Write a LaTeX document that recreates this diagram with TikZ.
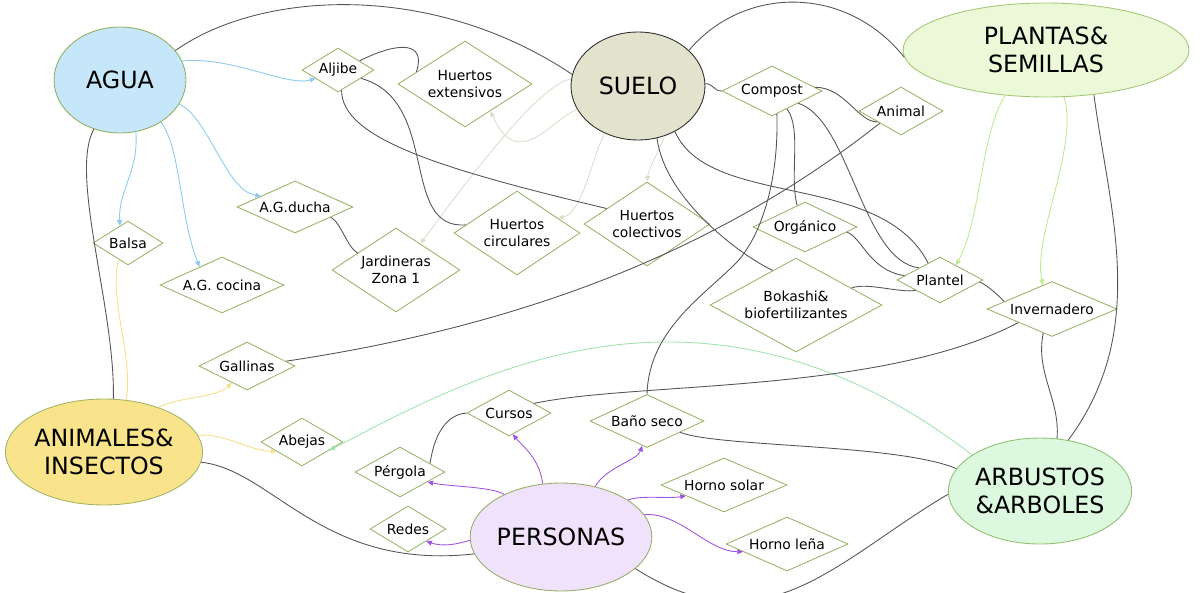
\documentclass[tikz,border=0pt]{standalone}
\usepackage{fontspec}
\setmainfont{DejaVu Sans}
\usetikzlibrary{shapes.geometric,arrows.meta}
\definecolor{aguaF}{HTML}{C6E6FA}
\definecolor{aguaB}{HTML}{8DB360}
\definecolor{sueloF}{HTML}{E2E2CD}
\definecolor{sueloB}{HTML}{2D2D2D}
\definecolor{plantF}{HTML}{EBF9D9}
\definecolor{plantB}{HTML}{A3C873}
\definecolor{animF}{HTML}{FAE48B}
\definecolor{animB}{HTML}{A3B467}
\definecolor{persF}{HTML}{EFE2FA}
\definecolor{persB}{HTML}{98AE6A}
\definecolor{arbF}{HTML}{DCF8DF}
\definecolor{arbB}{HTML}{90C070}
\definecolor{dbord}{HTML}{9BB46B}
\definecolor{lk}{HTML}{555555}
\definecolor{blueA}{HTML}{8ACBEE}
\definecolor{yelA}{HTML}{F5DF88}
\definecolor{purA}{HTML}{A055E0}
\definecolor{plA}{HTML}{BDEB8E}
\definecolor{suA}{HTML}{DDDDCB}
\definecolor{arA}{HTML}{9FE3B0}
\begin{document}
\begin{tikzpicture}[x=0.02cm,y=-0.02cm,
  big/.style={ellipse, inner sep=0pt, line width=0.5pt, align=center, font=\fontsize{13.5}{16}\selectfont},
  dia/.style={diamond, draw=dbord, fill=white, line width=0.5pt, inner sep=0pt, align=center, font=\fontsize{7.9}{9.5}\selectfont},
  lnk/.style={draw=lk, line width=0.5pt},
  arr/.style={-{Triangle[length=3.2pt,width=2.8pt]}, line width=0.5pt},
  blu/.style={arr, draw=blueA},
  yel/.style={arr, draw=yelA},
  pur/.style={arr, draw=purA},
  plg/.style={arr, draw=plA},
  sua/.style={arr, draw=suA},
  arg/.style={arr, draw=arA}]
\useasboundingbox (0,0) rectangle (1200,592);

% main ellipses
\node[big, fill=aguaF, draw=aguaB, minimum width=2.64cm, minimum height=2.12cm] (agua) at (120,80) {AGUA};
\node[big, fill=sueloF, draw=sueloB, minimum width=2.68cm, minimum height=2.16cm] (suelo) at (638,86) {SUELO};
\node[big, fill=plantF, draw=plantB, minimum width=5.72cm, minimum height=1.88cm] (plantas) at (1046,50) {PLANTAS\&\\SEMILLAS};
\node[big, fill=animF, draw=animB, minimum width=3.72cm, minimum height=2.12cm] (anim) at (104,452) {ANIMALES\&\\INSECTOS};
\node[big, fill=persF, draw=persB, minimum width=3.24cm, minimum height=2.16cm] (pers) at (561,537) {PERSONAS};
\node[big, fill=arbF, draw=arbB, minimum width=3.52cm, minimum height=2.12cm] (arb) at (1040,491) {ARBUSTOS\\\&ARBOLES};

% diamonds
\node[dia, minimum width=1.44cm, minimum height=0.88cm, shape aspect=1.64] (aljibe) at (338,70) {Aljibe};
\node[dia, minimum width=2.68cm, minimum height=1.72cm, shape aspect=1.56] (hext) at (465,84) {Huertos\\extensivos};
\node[dia, minimum width=2.32cm, minimum height=1.04cm, shape aspect=2.23] (ducha) at (295,207) {A.G.ducha};
\node[dia, minimum width=1.40cm, minimum height=0.88cm, shape aspect=1.6] (balsa) at (128,243) {Balsa};
\node[dia, minimum width=2.48cm, minimum height=1.12cm, shape aspect=2.2] (cocina) at (222,285) {A.G. cocina};
\node[dia, minimum width=2.56cm, minimum height=1.68cm, shape aspect=1.52] (jard) at (396,270) {Jardineras\\Zona 1};
\node[dia, minimum width=2.52cm, minimum height=1.68cm, shape aspect=1.5] (hcirc) at (517,233) {Huertos\\circulares};
\node[dia, minimum width=2.52cm, minimum height=1.68cm, shape aspect=1.5] (hcol) at (647,224) {Huertos\\colectivos};
\node[dia, minimum width=2.0cm, minimum height=1.0cm, shape aspect=2] (compost) at (772,91) {Compost};
\node[dia, minimum width=1.68cm, minimum height=0.96cm, shape aspect=1.75] (animal) at (901,111) {Animal};
\node[dia, minimum width=2.08cm, minimum height=1.0cm, shape aspect=2.08] (organico) at (805,227) {Orgánico};
\node[dia, minimum width=1.72cm, minimum height=0.92cm, shape aspect=1.87] (plantel) at (940,280) {Plantel};
\node[dia, minimum width=3.44cm, minimum height=1.88cm, shape aspect=1.83] (bokashi) at (796,305) {Bokashi\&\\biofertilizantes};
\node[dia, minimum width=2.6cm, minimum height=1.1cm, shape aspect=2.36] (inver) at (1052,309) {Invernadero};
\node[dia, minimum width=1.92cm, minimum height=0.96cm, shape aspect=2] (gallinas) at (247,366) {Gallinas};
\node[dia, minimum width=1.64cm, minimum height=0.96cm, shape aspect=1.7] (abejas) at (302,442) {Abejas};
\node[dia, minimum width=1.68cm, minimum height=0.92cm, shape aspect=1.83] (cursos) at (509,413) {Cursos};
\node[dia, minimum width=2.28cm, minimum height=1.06cm, shape aspect=2.15] (bano) at (647,421) {Baño seco};
\node[dia, minimum width=1.8cm, minimum height=1.0cm, shape aspect=1.8] (pergola) at (400,472) {Pérgola};
\node[dia, minimum width=1.52cm, minimum height=0.92cm, shape aspect=1.65] (redes) at (408,529) {Redes};
\node[dia, minimum width=2.52cm, minimum height=1.08cm, shape aspect=2.33] (hsolar) at (724,485) {Horno solar};
\node[dia, minimum width=2.44cm, minimum height=1.08cm, shape aspect=2.26] (hlena) at (787,544) {Horno leña};

\coordinate (cbend) at (737,262);

% blue (AGUA)
\draw[blu] (agua.17) .. controls +(50,-5) and +(-30,8) .. (aljibe.201);
\draw[blu] (agua.-73) .. controls +(3,40) and +(-2,-35) .. (balsa.115);
\draw[blu] (agua.-46) .. controls +(20,25) and +(-20,-50) .. (cocina.141);
\draw[blu] (agua.-22) .. controls +(30,15) and +(-35,-5) .. (ducha.162);

% yellow (ANIMALES)
\draw[yelA, line width=0.5pt] (balsa.-120) .. controls +(-10,40) and +(8,-40) .. (anim.67);
\draw[yel] (anim.39) .. controls +(15,-10) and +(-15,15) .. (gallinas.228);
\draw[yel] (anim.10) .. controls +(25,-3) and +(-25,0) .. (abejas.200);

% green (ARBUSTOS)
\draw[arg] (arb.152) .. controls +(-273,-210) and +(138,-71) .. (abejas.-17);

% purple (PERSONAS)
\draw[pur] (pers.143) .. controls +(-15,-8) and +(25,5) .. (pergola.-20);
\draw[pur] (pers.-178) .. controls +(-15,5) and +(15,5) .. (redes.-34);
\draw[pur] (pers.109) .. controls +(-3,-25) and +(10,12) .. (cursos.-80);
\draw[pur] (pers.56) .. controls +(12,-20) and +(-5,15) .. (bano.-101);
\draw[pur] (pers.29) .. controls +(15,-5) and +(-20,3) .. (hsolar.196);
\draw[pur] (pers.15) .. controls +(35,-3) and +(-35,0) .. (hlena.190);

% light green (PLANTAS)
\draw[plg] (plantas.-132) .. controls +(-25,40) and +(25,-45) .. (plantel.43);
\draw[plg] (plantas.-69) .. controls +(15,50) and +(-10,-50) .. (inver.111);

% pale (SUELO)
\draw[sua] (suelo.174) .. controls +(-35,5) and +(30,-40) .. (jard.47);
\draw[sua] (suelo.-159) .. controls +(-26,10) and +(28,62) .. (hext.-47);
\draw[sua] (suelo.-125) .. controls +(-12,20) and +(25,-5) .. (hcirc.20);
\draw[sua] (suelo.-62) .. controls +(-5,15) and +(2,-15) .. (hcol.90);

% dark links
\draw[lnk] (agua.-118) .. controls +(-25,45) and +(2,-90) .. (anim.80);
\draw[lnk] (agua.28) .. controls +(83,-59) and +(-142,-95) .. (suelo.170);
\draw[lnk] (suelo.35) .. controls +(55,-65) and +(-58,-73) .. (plantas.183);
\draw[lnk] (aljibe.23) .. controls +(40,-20) and +(10,-30) .. (hext.166);
\draw[lnk] (aljibe.-20) .. controls +(80,22) and +(-67,5) .. (hcirc.171);
\draw[lnk] (aljibe.-80) .. controls +(0,48) and +(-168,-40) .. (hcol.159);
\draw[lnk] (ducha.-16) .. controls +(10,5) and +(-10,-5) .. (jard.156);
\draw[lnk] (suelo.2) .. controls +(8,0) and +(-8,0) .. (compost.180);
\draw[lnk] (compost.5) .. controls +(30,0) and +(-20,0) .. (animal.205);
\draw[lnk] (compost.-78) .. controls +(2,70) and +(23,-25) .. (cbend) .. controls +(-32,33) and +(2,-65) .. (bano.90);
\draw[lnk] (compost.-50) .. controls +(15,20) and +(-8,-30) .. (organico.110);
\draw[lnk] (compost.-25) .. controls +(52,17) and +(-57,-7) .. (plantel.150);
\draw[lnk] (suelo.-51) .. controls +(35,78) and +(-48,-93) .. (plantel.125);
\draw[lnk] (organico.-7) .. controls +(15,5) and +(-35,-5) .. (plantel.173);
\draw[lnk] (bokashi.17) .. controls +(15,-6) and +(-15,3) .. (plantel.203);
\draw[lnk] (suelo.-70) .. controls +(8,61) and +(-32,-15) .. (bokashi.124);
\draw[lnk] (animal.210) .. controls +(-137,108) and +(274,-41) .. (gallinas.7);
\draw[lnk] (plantel.-3) .. controls +(8,3) and +(-5,-5) .. (inver.171);
\draw[lnk] (inver.202) .. controls +(-138,72) and +(103,-22) .. (cursos.21);
\draw[lnk] (inver.-110) .. controls +(-8,40) and +(3,-40) .. (arb.72);
\draw[lnk] (plantas.-43) .. controls +(15,115) and +(82,-110) .. (arb.61);
\draw[lnk] (bano.-19) .. controls +(40,15) and +(-60,-25) .. (arb.165);
\draw[lnk] (pers.-23) .. controls +(130,83) and +(-112,66) .. (arb.182);
\draw[lnk] (anim.-6) .. controls +(72,8) and +(-152,17) .. (pers.-169);
\draw[lnk] (cursos.180) .. controls +(-25,2) and +(3,-20) .. (pergola.16);
\end{tikzpicture}
\end{document}
